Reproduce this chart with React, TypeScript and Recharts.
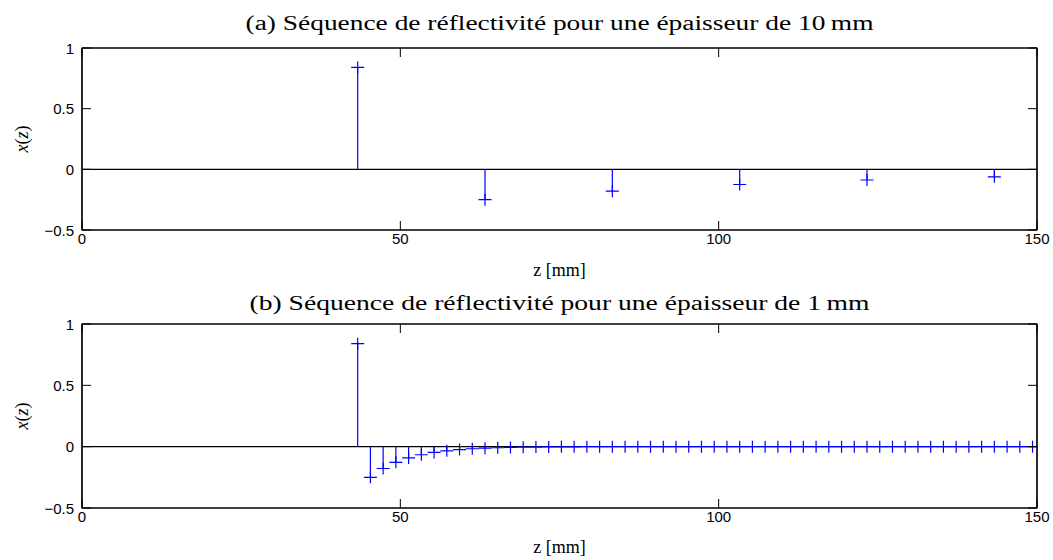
import React from 'react';
import { ScatterChart, Scatter, XAxis, YAxis, ErrorBar, ReferenceLine, ReferenceArea } from 'recharts';

// ---- data ----
const zTop = [43.3, 63.3, 83.3, 103.3, 123.3, 143.3];
const xTop = [0.84, -0.25, -0.18, -0.125, -0.088, -0.062];

const zBottom = [
  43.3, 45.3, 47.3, 49.3, 51.3, 53.3, 55.3, 57.3, 59.3, 61.3,
  63.3, 65.3, 67.3, 69.3, 71.3, 73.3, 75.3, 77.3, 79.3, 81.3,
  83.3, 85.3, 87.3, 89.3, 91.3, 93.3, 95.3, 97.3, 99.3, 101.3,
  103.3, 105.3, 107.3, 109.3, 111.3, 113.3, 115.3, 117.3, 119.3, 121.3,
  123.3, 125.3, 127.3, 129.3, 131.3, 133.3, 135.3, 137.3, 139.3, 141.3,
  143.3, 145.3, 147.3, 149.3,
];
const xBottom = [
  0.84, -0.25, -0.178, -0.128, -0.092, -0.066, -0.047, -0.034, -0.024, -0.017,
  -0.012, -0.009, -0.006, -0.0045, -0.003, -0.002, -0.0015, -0.001, 0, 0,
  0, 0, 0, 0, 0, 0, 0, 0, 0, 0,
  0, 0, 0, 0, 0, 0, 0, 0, 0, 0,
  0, 0, 0, 0, 0, 0, 0, 0, 0, 0,
  0, 0, 0, 0,
];

const xTicks = [0, 50, 100, 150];
const yTicks = [-0.5, 0, 0.5, 1];
const titleA = '(a) Séquence de réflectivité pour une épaisseur de 10\u2009mm';
const titleB = '(b) Séquence de réflectivité pour une épaisseur de 1\u2009mm';
const xLabel = 'z [mm]';

const BLUE = '#0000ff';
const TICK_FONT = '"Liberation Sans", Arial, Helvetica, sans-serif';
const SERIF = '"Liberation Serif", "Times New Roman", serif';
const TL = 9; // inward tick length

const buildData = (zs: number[], vs: number[]) =>
  zs.map((z, i) => ({ z, v: vs[i], err: vs[i] > 0 ? [vs[i], 0] : [0, -vs[i]] }));

const fmt = (v: number) => (v < 0 ? '\u2212' + String(Math.abs(v)) : String(v));

const Plus = (props: any) => {
  const { cx, cy } = props;
  if (cx == null || cy == null) return null;
  return (
    <path
      d={`M${cx - 6.5},${cy}H${cx + 6.5}M${cx},${cy - 6}V${cy + 6}`}
      stroke={BLUE}
      strokeWidth={1.2}
      fill="none"
    />
  );
};

const BM = 4;
const BottomTick = (props: any) => {
  const { x, y, payload } = props;
  return (
    <g>
      <line x1={x} x2={x} y1={y - BM} y2={y - BM - TL} stroke="#000" strokeWidth={1} />
      <text x={x} y={y + 10} textAnchor="middle" fontFamily={TICK_FONT} fontSize={15} fill="#000">
        {fmt(payload.value)}
      </text>
    </g>
  );
};

const LM = 8;
const LeftTick = (props: any) => {
  const { x, y, payload } = props;
  return (
    <g>
      <line x1={x + LM} x2={x + LM + TL} y1={y} y2={y} stroke="#000" strokeWidth={1} />
      <text x={x} y={y + 5.5} textAnchor="end" fontFamily={TICK_FONT} fontSize={15} fill="#000">
        {fmt(payload.value)}
      </text>
    </g>
  );
};

const TopTick = (props: any) => {
  const { x, y } = props;
  return <line x1={x} x2={x} y1={y} y2={y + TL} stroke="#000" strokeWidth={1} />;
};

const RightTick = (props: any) => {
  const { x, y } = props;
  return <line x1={x} x2={x - TL} y1={y} y2={y} stroke="#000" strokeWidth={1} />;
};

const Panel = ({ data, height, top, xAxisH }: { data: any[]; height: number; top: number; xAxisH: number }) => (
  <ScatterChart width={1053} height={height} margin={{ top: top - 1, right: 15, bottom: 0, left: 0 }}>
    <XAxis
      xAxisId="b"
      dataKey="z"
      type="number"
      domain={[0, 150]}
      ticks={xTicks}
      interval={0}
      height={xAxisH}
      tickSize={0}
      tickMargin={BM}
      tickLine={false}
      tick={<BottomTick />}
      axisLine={{ stroke: '#000', strokeWidth: 1.2 }}
      allowDataOverflow
    />
    <XAxis
      xAxisId="t"
      orientation="top"
      dataKey="z"
      type="number"
      domain={[0, 150]}
      ticks={xTicks}
      interval={0}
      height={1}
      tickSize={0}
      tickMargin={0}
      tickLine={false}
      tick={<TopTick />}
      axisLine={{ stroke: '#000', strokeWidth: 1.2 }}
      allowDataOverflow
    />
    <YAxis
      yAxisId="l"
      dataKey="v"
      type="number"
      domain={[-0.5, 1]}
      ticks={yTicks}
      interval={0}
      width={82}
      tickSize={0}
      tickMargin={LM}
      tickLine={false}
      tick={<LeftTick />}
      axisLine={{ stroke: '#000', strokeWidth: 1.2 }}
      allowDataOverflow
    />
    <YAxis
      yAxisId="r"
      orientation="right"
      dataKey="v"
      type="number"
      domain={[-0.5, 1]}
      ticks={yTicks}
      interval={0}
      width={1}
      tickSize={0}
      tickMargin={0}
      tickLine={false}
      tick={<RightTick />}
      axisLine={{ stroke: '#000', strokeWidth: 1.2 }}
      allowDataOverflow
    />
    <ReferenceArea
      xAxisId="b"
      yAxisId="l"
      x1={0}
      x2={150}
      y1={-0.5}
      y2={1}
      fill="none"
      fillOpacity={0}
      stroke="#000"
      strokeWidth={1.2}
      ifOverflow="visible"
    />
    <ReferenceLine xAxisId="b" yAxisId="l" y={0} stroke="#000" strokeWidth={1.2} />
    <Scatter
      xAxisId="b"
      yAxisId="l"
      data={data}
      dataKey="v"
      shape={<Plus />}
      isAnimationActive={false}
    >
      <ErrorBar dataKey="err" direction="y" width={0} stroke={BLUE} strokeWidth={1.2} isAnimationActive={false} />
    </Scatter>
  </ScatterChart>
);

const YLabel = ({ cx, cy }: { cx: number; cy: number }) => (
  <text
    transform={`translate(${cx},${cy}) rotate(-90)`}
    textAnchor="middle"
    fontFamily={SERIF}
    fontSize={18}
    fill="#000"
  >
    <tspan fontStyle="italic">x</tspan>
    <tspan>(</tspan>
    <tspan fontStyle="italic">z</tspan>
    <tspan>)</tspan>
  </text>
);

export default function App() {
  const dataTop = buildData(zTop, xTop);
  const dataBottom = buildData(zBottom, xBottom);
  return (
    <div style={{ position: 'absolute', left: 0, top: 0, width: 1053, height: 560, background: '#fff' }}>
      <div style={{ position: 'absolute', left: 0, top: 0 }}>
        <Panel data={dataTop} height={280} top={48} xAxisH={50} />
      </div>
      <div style={{ position: 'absolute', left: 0, top: 278 }}>
        <Panel data={dataBottom} height={282} top={46} xAxisH={52} />
      </div>
      <svg
        width={1053}
        height={560}
        style={{ position: 'absolute', left: 0, top: 0, pointerEvents: 'none' }}
      >
        <text x={559.5} y={30} textAnchor="middle" fontFamily={SERIF} fontSize={20} fill="#000"
          textLength={628} lengthAdjust="spacingAndGlyphs">{titleA}</text>
        <text x={559.5} y={276} textAnchor="middle" fontFamily={SERIF} fontSize={18} fill="#000">{xLabel}</text>
        <text x={559.5} y={310} textAnchor="middle" fontFamily={SERIF} fontSize={20} fill="#000"
          textLength={620} lengthAdjust="spacingAndGlyphs">{titleB}</text>
        <text x={559.5} y={553} textAnchor="middle" fontFamily={SERIF} fontSize={18} fill="#000">{xLabel}</text>
        <YLabel cx={28} cy={139} />
        <YLabel cx={28} cy={416} />
      </svg>
    </div>
  );
}
